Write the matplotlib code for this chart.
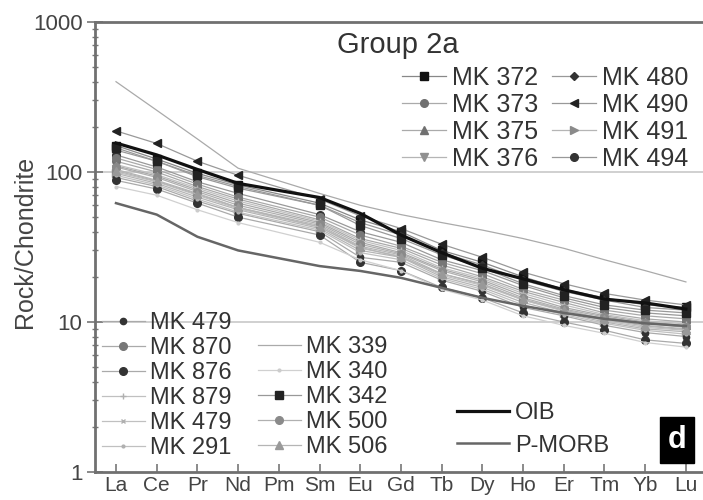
import numpy as np
import matplotlib
matplotlib.use("Agg")
import matplotlib.pyplot as plt

plt.rcParams["font.family"] = ["Liberation Sans", "DejaVu Sans"]

elements = ["La", "Ce", "Pr", "Nd", "Pm", "Sm", "Eu", "Gd", "Tb", "Dy",
            "Ho", "Er", "Tm", "Yb", "Lu"]
# analysed REE (no Pm)
ree = ["La", "Ce", "Pr", "Nd", "Sm", "Eu", "Gd", "Tb", "Dy", "Ho", "Er",
       "Tm", "Yb", "Lu"]

oib = [156, 130, 104, 84, 67.6, 53, 38, 29, 22.8, 19.4, 16.4, 14.2, 13.4, 12.2]
pmorb = [62, 52, 37, 30, 23.6, 21.9, 19.7, 16.9, 14.5, 12.8, 11.5, 10.5, 9.8, 9.4]

mk372 = [150, 122, 98, 82, 62, 48, 40, 30, 25, 20, 16.5, 14.5, 13, 12.5]
mk373 = [118, 100, 80, 66, 48, 36, 31, 24, 20, 16, 13.5, 11.5, 10.5, 10]
mk375 = [110, 94, 76, 62, 46, 34, 29, 22.5, 19, 15, 12.5, 11, 10, 9.5]
mk376 = [104, 88, 72, 58, 44, 32, 28, 21, 18, 14, 12, 10.5, 9.5, 9]
mk480 = [140, 118, 93, 78, 60, 46, 38, 29, 24, 19, 16, 14, 12.5, 12]
mk490 = [188, 155, 118, 95, 66, 51, 42, 33, 27, 21.5, 18, 15.5, 14, 13]
mk491 = [98, 84, 68, 56, 42, 30, 27, 20, 17, 13.5, 11.5, 10, 9, 8.6]
mk494 = [130, 108, 86, 72, 52, 40, 34, 26, 22, 17.5, 14.5, 12.5, 11.5, 11]
mk479 = [92, 80, 64, 53, 40, 27, 25, 19, 16, 12.5, 11, 9.5, 8.5, 8]
mk870 = [124, 104, 83, 68, 50, 38, 32, 25, 21, 16.5, 14, 12, 11, 10.5]
mk876 = [88, 77, 62, 50, 38, 25, 22, 17, 14.5, 11.5, 10, 8.8, 7.6, 7.2]
mk879 = [112, 96, 78, 64, 47, 35, 30, 23, 19.5, 15.5, 13, 11.2, 10.2, 9.7]
mk479b = [100, 86, 70, 57, 43, 31, 27.5, 20.5, 17.5, 14, 11.8, 10.2, 9.2, 8.8]
mk291 = [95, 82, 66, 54, 41, 29, 26, 19.5, 16.5, 13, 11.2, 9.8, 8.8, 8.3]
mk339 = [400, 258, 166, 106, 72, 60, 52, 46, 41, 36, 31, 26, 22, 18.5]
mk340 = [80, 70, 56, 46, 34, 26, 22, 16.5, 14, 11, 9.5, 8.4, 7.3, 6.8]
mk342 = [145, 118, 95, 80, 60, 44, 36, 28, 23, 18, 15, 13, 12, 11.5]
mk500 = [108, 92, 74, 60, 45, 33, 28.5, 22, 18.5, 14.5, 12.2, 10.8, 9.8, 9.2]
mk506 = [102, 87, 71, 58, 43, 31.5, 27, 21, 17.8, 14.2, 12, 10.4, 9.4, 8.9]

x = [elements.index(e) for e in ree]

W, H = 703, 500
fig = plt.figure(figsize=(W / 100, H / 100), dpi=100)
ax = fig.add_axes([95 / W, 1 - 472 / H, 608 / W, 450 / H])

# label, data, marker, marker colour, line colour, marker size
samples = [
    ("MK 372", mk372, "s", "#111111", "#888888", 5.5),
    ("MK 373", mk373, "o", "#707070", "#aaaaaa", 5.5),
    ("MK 375", mk375, "^", "#707070", "#aaaaaa", 6),
    ("MK 376", mk376, "v", "#909090", "#b5b5b5", 6),
    ("MK 480", mk480, "D", "#333333", "#999999", 4.5),
    ("MK 490", mk490, "<", "#222222", "#999999", 6),
    ("MK 491", mk491, ">", "#8a8a8a", "#b5b5b5", 6),
    ("MK 494", mk494, "o", "#333333", "#999999", 5.5),
    ("MK 479", mk479, "o", "#333333", "#aaaaaa", 4.5),
    ("MK 870", mk870, "o", "#777777", "#aaaaaa", 5.5),
    ("MK 876", mk876, "o", "#333333", "#aaaaaa", 5.5),
    ("MK 879", mk879, "+", "#b0b0b0", "#c0c0c0", 5),
    ("MK 479", mk479b, "x", "#b0b0b0", "#c0c0c0", 3.5),
    ("MK 291", mk291, ".", "#b0b0b0", "#c0c0c0", 4),
    ("MK 339", mk339, "None", "#aaaaaa", "#aaaaaa", 0),
    ("MK 340", mk340, ".", "#cccccc", "#d0d0d0", 4),
    ("MK 342", mk342, "s", "#222222", "#999999", 5.5),
    ("MK 500", mk500, "o", "#8a8a8a", "#b0b0b0", 5.5),
    ("MK 506", mk506, "^", "#999999", "#b5b5b5", 6),
]

handles = []
for lab, vals, mk, mc, lc, ms in samples:
    h, = ax.plot(x, vals, color=lc, lw=0.9, marker=mk, ms=ms,
                 mfc=mc, mec=mc, label=lab, zorder=3)
    handles.append(h)

h_oib, = ax.plot(x, oib, color="#111111", lw=2.3, label="OIB", zorder=4)
h_pm, = ax.plot(x, pmorb, color="#666666", lw=1.8, label="P-MORB", zorder=4)

ax.set_yscale("log")
ax.set_ylim(1, 1000)
ax.set_xlim(-0.516, 14.42)
ax.set_xticks(range(len(elements)))
ax.set_xticklabels(elements, fontsize=15)
ax.set_yticks([1, 10, 100, 1000])
ax.set_yticklabels(["1", "10", "100", "1000"], fontsize=16)
ax.set_ylabel("Rock/Chondrite", fontsize=18, color="#444444")
ax.yaxis.set_label_coords((37 - 95) / 608, (472 - 242) / 450)

for y in [10, 100]:
    ax.axhline(y, color="#c8c8c8", lw=1.2, zorder=1)

for s in ["left", "bottom", "top"]:
    ax.spines[s].set_color("#707070")
    ax.spines[s].set_linewidth(2)
ax.spines["right"].set_visible(False)
ax.tick_params(axis="x", direction="in", length=6, width=1.2, color="#777777",
               labelcolor="#444444", pad=3)
ax.tick_params(axis="y", which="major", direction="inout", length=12,
               width=1.2, color="#777777", labelcolor="#444444", pad=3)
ax.tick_params(axis="y", which="minor", direction="inout", length=5,
               width=1, color="#777777")

ax.text((398 - 95) / 608, 1 - 23 / 450, "Group 2a", transform=ax.transAxes,
        fontsize=21, color="#333333", ha="center", va="center")

leg_kw = dict(frameon=False, borderpad=0, borderaxespad=0, numpoints=1,
              handletextpad=0.25, bbox_transform=fig.transFigure,
              labelcolor="#333333")

leg1 = ax.legend(handles=handles[:8], loc="upper left", ncol=2,
                 bbox_to_anchor=(402 / W, 1 - 66 / H), fontsize=18,
                 labelspacing=0.12, handlelength=1.75, columnspacing=0.55,
                 **leg_kw)
ax.add_artist(leg1)

leg2 = ax.legend(handles=handles[8:14], loc="upper left",
                 bbox_to_anchor=(102 / W, 1 - 312 / H), fontsize=17,
                 labelspacing=0.13, handlelength=1.8, **leg_kw)
ax.add_artist(leg2)

leg3 = ax.legend(handles=handles[14:], loc="upper left",
                 bbox_to_anchor=(258 / W, 1 - 336 / H), fontsize=17,
                 labelspacing=0.13, handlelength=1.8, **leg_kw)
ax.add_artist(leg3)

leg4 = ax.legend(handles=[h_oib, h_pm], loc="upper left",
                 bbox_to_anchor=(457 / W, 1 - 402 / H), fontsize=17,
                 labelspacing=0.45, handlelength=2.2, **leg_kw)

fig.text(677 / W, 1 - 440 / H, "d", fontsize=22, fontweight="bold",
         color="white", ha="center", va="center",
         bbox=dict(boxstyle="square,pad=0.25", fc="black", ec="black"))

fig.savefig("out.png", dpi=100)
